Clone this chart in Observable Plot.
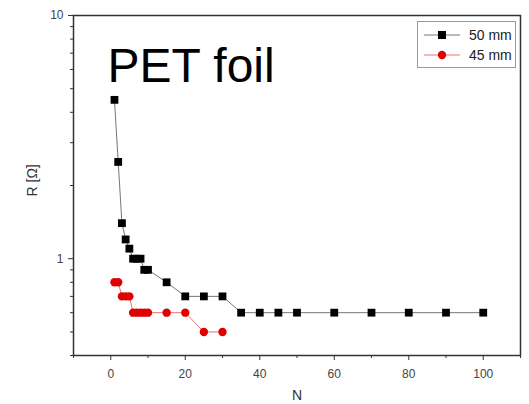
<!DOCTYPE html>
<html>
<head>
<meta charset="utf-8">
<script src="https://cdn.jsdelivr.net/npm/d3@7"></script>
<script src="https://cdn.jsdelivr.net/npm/@observablehq/plot@0.6"></script>
<style>
  body { margin: 0; background: #fff; }
  #wrap { position: relative; width: 529px; height: 404px; font-family: "Liberation Sans", Arial, sans-serif; }
  #legend { position: absolute; left: 417px; top: 21px; width: 99px; height: 47px; border: 1px solid #999; background: #fff; box-sizing: border-box; }
  #legend .row { position: absolute; left: 0; height: 20px; display: flex; align-items: center; }
  #legend .row span { font-size: 14px; color: #222; margin-left: 5px; }
</style>
</head>
<body>
<div id="wrap"></div>
<script>
const seriesNames = ["50 mm", "45 mm"];
const n50 = [1,2,3,4,5,6,7,8,9,10,15,20,25,30,35,40,45,50,60,70,80,90,100];
const r50 = [4.5,2.5,1.4,1.2,1.1,1.0,1.0,1.0,0.9,0.9,0.8,0.7,0.7,0.7,0.6,0.6,0.6,0.6,0.6,0.6,0.6,0.6,0.6];
const n45 = [1,2,3,4,5,6,7,8,9,10,15,20,25,30];
const r45 = [0.8,0.8,0.7,0.7,0.7,0.6,0.6,0.6,0.6,0.6,0.6,0.6,0.5,0.5];
const xMajorTicks = [0,20,40,60,80,100];
const xMinorTicks = [-10,10,30,50,70,90,110];
const yMajorTicks = [1,10];
const yMinorTicks = [0.4,0.5,0.6,0.7,0.8,0.9,2,3,4,5,6,7,8,9];
const titleText = "PET foil";
const xLabel = "N";
const yLabel = "R [Ω]";

const d50 = n50.map((n,i) => ({N: n, R: r50[i]}));
const d45 = n45.map((n,i) => ({N: n, R: r45[i]}));

const black = "#000";
const red = "#e00000";

const chart = Plot.plot({
  width: 529,
  height: 404,
  marginLeft: 73,
  marginRight: 9,
  marginTop: 15,
  marginBottom: 49,
  style: {fontFamily: "'Liberation Sans', Arial, sans-serif", fontSize: "12px", color: "#333", background: "#fff"},
  x: {domain: [-10, 110]},
  y: {type: "log", domain: [0.4, 10]},
  marks: [
    Plot.frame({stroke: "#333", strokeWidth: 1.5}),
    Plot.axisX({ticks: xMajorTicks, tickSize: 5, tickPadding: 9, fontSize: 12, label: null, stroke: "#333", fill: "#444"}),
    Plot.axisX({ticks: xMinorTicks, tickSize: 3, tickFormat: () => "", label: null, stroke: "#333"}),
    Plot.axisY({ticks: yMajorTicks, tickSize: 5, tickPadding: 5, tickFormat: d3.format("d"), label: null, fontSize: 12, stroke: "#333", fill: "#444"}),
    Plot.axisY({ticks: yMinorTicks, tickSize: 3, tickFormat: () => "", label: null, stroke: "#333"}),
    Plot.text([yLabel], {text: d => d, frameAnchor: "left", rotate: -90, dx: -41, dy: 11, fontSize: 14, fill: "#333"}),
    Plot.text([xLabel], {text: d => d, frameAnchor: "bottom", lineAnchor: "middle", dy: 40, fontSize: 14, fill: "#333"}),
    Plot.line(d50, {x: "N", y: "R", stroke: "#777", strokeWidth: 1}),
    Plot.line(d45, {x: "N", y: "R", stroke: "#f07070", strokeWidth: 1}),
    Plot.dot(d50, {x: "N", y: "R", symbol: "square", r: 4.4, fill: black, stroke: null}),
    Plot.dot(d45, {x: "N", y: "R", symbol: "circle", r: 4.2, fill: red, stroke: null}),
    Plot.text([titleText], {text: d => d, frameAnchor: "top-left", textAnchor: "start", lineAnchor: "top", dx: 34, dy: 32, fontSize: 48, fill: "#000"})
  ]
});

const wrap = document.getElementById("wrap");
wrap.appendChild(chart);

const legend = document.createElement("div");
legend.id = "legend";
const swatches = [
  {name: seriesNames[0], line: "#777", fill: black, shape: "square"},
  {name: seriesNames[1], line: "#f07070", fill: red, shape: "circle"}
];
swatches.forEach((s, i) => {
  const row = document.createElement("div");
  row.className = "row";
  row.style.top = (3 + i * 20) + "px";
  const marker = s.shape === "square"
    ? `<rect x="16" y="6" width="8" height="8" fill="${s.fill}"/>`
    : `<circle cx="20" cy="10" r="4.2" fill="${s.fill}"/>`;
  row.innerHTML = `<svg width="42" height="20" style="margin-left:4px"><line x1="2" y1="10" x2="38" y2="10" stroke="${s.line}" stroke-width="1"/>${marker}</svg><span>${s.name}</span>`;
  legend.appendChild(row);
});
wrap.appendChild(legend);
</script>
</body>
</html>
